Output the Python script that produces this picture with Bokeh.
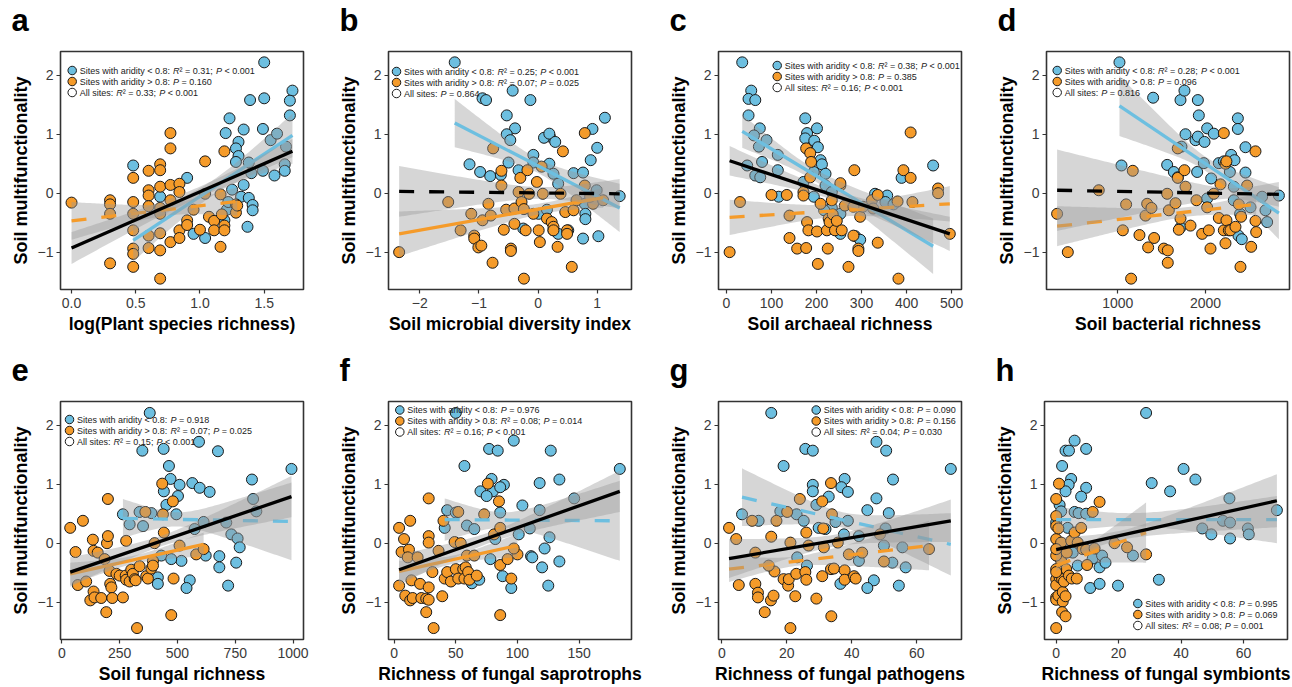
import numpy as np
from bokeh.plotting import figure
from bokeh.layouts import row, column
from bokeh.models import Range1d, FixedTicker
from bokeh.embed import file_html
from bokeh.resources import INLINE
from bokeh.core.properties import value

# ---------------------------------------------------------------- data
Y_TICKS = [-1, 0, 1, 2]
Y_TICK_LABELS = ["\u22121", "0", "1", "2"]
Y_LABEL = "Soil multifunctionality"
LEGEND_GROUPS = ["Sites with aridity < 0.8: ", "Sites with aridity > 0.8: ", "All sites: "]

# fits: [y at group min x, y at group max x, CI half-width at left, narrowest, right]
# order: aridity < 0.8 (blue), aridity > 0.8 (orange), all sites (black)

A_BLUE = [(1.50,2.22),(1.72,1.74),(1.70,1.57),(1.70,1.32),(1.39,1.58),(1.50,1.61),(1.23,1.27),(1.20,1.02),(1.34,1.08),(1.49,1.09),(1.30,0.87),(1.28,0.76),(1.30,0.63),(1.28,0.53),(1.38,0.52),(1.40,0.34),(1.49,0.38),(1.58,0.30),(1.55,0.90),(1.60,1.01),(1.67,0.79),(1.66,0.49),(1.66,0.38),(0.90,0.26),(0.48,0.47),(1.34,0.14),(1.25,0.06),(1.32,-0.06),(1.38,-0.08),(1.41,-0.20),(1.41,-0.29),(1.37,-0.57),(1.21,-0.28),(1.19,-0.46),(0.95,-0.69),(1.04,-0.76),(1.22,-0.15),(0.69,-0.06)]
A_ORANGE = [(0.00,-0.16),(0.30,-0.12),(0.30,-0.19),(0.30,-0.35),(0.30,-1.19),(0.48,0.26),(0.48,-0.15),(0.48,-0.35),(0.48,-0.63),(0.48,-0.94),(0.48,-1.03),(0.48,-1.25),(0.60,0.38),(0.60,0.05),(0.60,-0.04),(0.60,-0.22),(0.60,-0.72),(0.60,-0.93),(0.69,0.49),(0.69,0.39),(0.69,0.11),(0.69,-0.25),(0.69,-0.35),(0.69,-0.68),(0.69,-0.97),(0.69,-1.45),(0.77,1.02),(0.77,0.76),(0.77,0.14),(0.77,-0.12),(0.77,-0.83),(0.84,0.16),(0.84,0.02),(0.84,-0.63),(0.84,-0.76),(0.90,-0.46),(0.90,-0.54),(0.95,-0.28),(1.00,-0.62),(1.04,0.54),(1.04,-0.01),(1.07,-0.40),(1.11,-0.47),(1.11,-0.63),(1.16,-0.02),(1.17,-0.36),(1.16,-0.91),(1.19,0.71),(1.19,-0.55),(1.19,-0.63),(1.28,-0.19),(1.28,-0.33),(1.29,-0.21)]
A_FITS = [[-0.80, 0.98, 0.36, 0.13, 0.37], [-0.47, -0.14, 0.32, 0.10, 0.24], [-0.93, 0.71, 0.27, 0.09, 0.21]]
A_STATS = [("0.31", "< 0.001"), (None, "= 0.160"), ("0.33", "< 0.001")]
A_XTICKS = [0, 0.5, 1, 1.5]
A_XTICK_LABELS = ["0.0", "0.5", "1.0", "1.5"]
A_XLABEL = "log(Plant species richness)"

B_BLUE = [(-1.41,2.22),(-0.94,1.61),(-0.88,1.58),(-0.43,1.74),(-0.13,1.58),(-0.53,1.32),(-0.39,1.10),(-0.53,1.00),(-0.47,0.90),(0.20,0.96),(0.10,0.94),(0.19,1.01),(0.29,0.87),(0.92,1.09),(1.13,1.28),(1.00,0.77),(0.89,0.56),(-1.16,0.49),(-0.98,0.36),(-0.81,0.29),(-0.63,0.31),(-0.50,0.52),(-0.33,0.39),(-0.08,0.65),(-0.08,0.52),(0.19,0.50),(0.26,0.33),(0.34,0.16),(0.60,0.34),(0.76,0.35),(0.79,-0.18),(0.80,-0.35),(0.80,-0.44),(0.76,-0.77),(1.02,-0.73),(1.38,-0.05),(0.99,0.05),(0.26,-0.63),(0.34,-0.69),(0.51,-0.63),(-0.25,-0.60),(0.01,-0.35),(0.15,-0.28)]
B_ORANGE = [(-2.35,-1.00),(-1.52,-0.15),(-1.31,-0.63),(-1.13,-0.35),(-1.08,-0.72),(-1.08,-0.77),(-1.01,-0.92),(-0.96,-0.89),(-0.94,-0.46),(-0.84,-0.18),(-0.80,-0.38),(-0.77,-1.18),(-0.76,0.76),(-0.62,0.38),(-0.62,0.13),(-0.58,-0.62),(-0.54,-0.28),(-0.46,-0.94),(-0.46,-0.98),(-0.40,-0.52),(-0.40,-0.26),(-0.33,0.02),(-0.30,0.26),(-0.28,-0.15),(-0.24,-0.27),(-0.24,-1.45),(-0.21,-0.63),(-0.18,0.39),(-0.15,-0.01),(-0.08,-0.35),(-0.02,0.19),(0.01,-0.63),(0.03,-0.83),(0.06,0.45),(0.08,-0.01),(0.15,-0.43),(0.23,-0.49),(0.26,-0.57),(0.26,-0.63),(0.33,-0.91),(0.38,-0.01),(0.42,0.71),(0.46,-0.32),(0.49,-0.63),(0.49,-0.69),(0.57,-1.25),(0.60,-0.29),(0.65,-0.12),(0.79,1.02),(0.79,0.13),(0.93,-0.18),(0.88,-0.06),(1.10,-0.12)]
B_FITS = [[1.19, -0.25, 0.41, 0.12, 0.41], [-0.69, -0.075, 0.38, 0.09, 0.17], [0.03, -0.01, 0.43, 0.10, 0.25]]
B_STATS = [("0.25", "< 0.001"), ("0.07", "= 0.025"), (None, "= 0.864")]
B_XTICKS = [-2, -1, 0, 1]
B_XTICK_LABELS = ["\u22122", "\u22121", "0", "1"]
B_XLABEL = "Soil microbial diversity index"

C_BLUE = [(35,2.22),(55,1.74),(49,1.60),(64,1.58),(49,1.32),(74,1.10),(61,0.98),(72,0.79),(89,0.90),(79,0.53),(46,0.47),(64,0.30),(75,0.27),(114,0.65),(114,0.39),(116,-0.06),(175,1.27),(179,1.02),(175,0.93),(201,1.10),(195,0.89),(203,0.78),(209,0.56),(212,0.49),(194,0.36),(220,0.33),(194,-0.06),(220,0.13),(234,0.02),(253,-0.69),(286,-0.73),(297,-0.79),(357,-0.04),(330,-0.01),(353,-0.15),(371,-0.19),(389,0.26),(459,0.47),(234,-0.25),(217,-0.29),(171,0.19),(253,-0.35)]
C_ORANGE = [(7,-1.00),(30,-0.15),(100,-0.03),(134,-0.03),(140,-0.38),(140,-0.76),(157,-0.94),(177,-0.93),(171,0.02),(171,-0.04),(177,0.76),(186,0.68),(188,0.53),(179,-0.49),(182,-0.63),(186,0.27),(201,-0.65),(203,-1.20),(209,-0.18),(223,-0.63),(225,-0.94),(227,-0.43),(229,-0.49),(234,-0.12),(236,-0.36),(241,-0.63),(245,-0.47),(253,0.13),(253,0.17),(256,-0.63),(263,-0.21),(271,-1.25),(282,-0.72),(284,0.39),(293,-0.94),(293,-0.98),(297,-0.40),(303,-0.23),(323,-0.12),(326,-0.26),(336,-0.03),(336,-0.84),(382,-1.45),(380,-0.14),(393,0.39),(409,0.26),(409,1.03),(413,-0.15),(470,0.08),(470,0.00),(496,-0.69),(282,-0.23)]
C_FITS = [[1.05, -0.90, 0.28, 0.10, 0.47], [-0.41, -0.18, 0.30, 0.10, 0.30], [0.55, -0.69, 0.25, 0.08, 0.29]]
C_STATS = [("0.38", "< 0.001"), (None, "= 0.385"), ("0.16", "< 0.001")]
C_XTICKS = [0, 100, 200, 300, 400, 500]
C_XTICK_LABELS = ["0", "100", "200", "300", "400", "500"]
C_XLABEL = "Soil archaeal richness"

D_BLUE = [(1019,2.22),(1403,1.62),(1715,1.58),(1760,1.74),(1913,1.58),(1924,1.32),(2019,1.10),(2095,1.01),(1772,1.00),(1886,0.90),(1913,0.96),(1989,0.87),(2369,1.27),(2369,1.09),(2456,0.78),(1042,0.47),(1563,0.48),(1639,0.36),(1684,0.27),(1726,0.79),(1905,0.36),(1981,0.51),(2065,0.25),(2152,0.51),(2209,0.54),(2293,0.65),(2331,0.56),(2456,0.35),(2278,0.36),(2323,0.11),(2837,-0.04),(1715,-0.58),(2376,-0.72),(2414,-0.78),(2323,-0.12),(2019,-0.09),(2395,-0.35),(2513,-0.24),(2684,-0.29),(2703,-0.49),(2646,-0.06)]
D_ORANGE = [(308,-0.35),(430,-1.00),(783,0.05),(1095,-0.19),(1057,-0.63),(1171,0.38),(1152,-1.45),(1247,-0.71),(1335,-0.18),(1316,-0.38),(1346,-0.92),(1384,-0.25),(1414,-0.76),(1525,-0.94),(1570,-0.97),(1570,-1.18),(1563,-0.01),(1582,-0.29),(1658,-0.17),(1684,0.76),(1684,0.26),(1696,-0.62),(1760,0.39),(1772,0.11),(1715,-0.43),(1829,-0.55),(1897,-0.12),(1962,-0.69),(2019,-0.24),(2038,-0.63),(2057,-0.94),(2095,-0.01),(2152,-0.42),(2209,1.02),(2171,0.15),(2228,0.50),(2239,0.54),(2209,-0.63),(2239,-0.46),(2266,-0.63),(2285,-0.63),(2342,-0.57),(2380,-0.19),(2406,-0.40),(2228,-0.85),(2399,-1.25),(2570,0.71),(2475,0.13),(2570,-0.47),(2578,-0.66),(2521,-0.91)]
D_FITS = [[1.48, -0.34, 0.51, 0.12, 0.44], [-0.56, -0.19, 0.34, 0.08, 0.18], [0.05, -0.02, 0.69, 0.09, 0.21]]
D_STATS = [("0.28", "< 0.001"), (None, "= 0.096"), (None, "= 0.816")]
D_XTICKS = [1000, 2000]
D_XTICK_LABELS = ["1000", "2000"]
D_XLABEL = "Soil bacterial richness"

E_BLUE = [(380,2.21),(348,1.57),(440,1.60),(593,1.72),(675,1.56),(463,1.31),(993,1.26),(470,1.09),(509,0.99),(564,1.02),(596,0.94),(639,0.87),(822,1.08),(441,0.88),(502,0.80),(452,0.65),(264,0.49),(336,0.53),(387,0.51),(495,0.49),(827,0.75),(841,0.54),(711,0.35),(733,0.15),(760,0.08),(613,0.36),(574,0.24),(769,-0.07),(681,-0.22),(681,-0.41),(754,-0.33),(719,-0.72),(622,-0.21),(517,-0.30),(415,-0.58),(415,-0.69),(553,-0.63),(539,-0.76),(293,0.32),(351,0.29),(430,-0.21),(473,-0.27)]
E_ORANGE = [(36,0.26),(91,0.38),(59,-0.15),(69,-0.71),(105,-0.65),(123,-0.97),(134,0.06),(137,-0.13),(137,-0.82),(141,-0.92),(155,-0.16),(170,-0.93),(185,-0.27),(192,-1.17),(195,0.00),(199,0.12),(199,0.75),(206,-0.47),(209,-0.69),(214,-0.75),(218,-0.93),(236,-0.52),(250,-0.55),(264,-0.92),(276,-0.55),(278,0.04),(278,-0.62),(293,-0.65),(300,-0.45),(307,-0.52),(315,-0.61),(319,-0.63),(325,-1.44),(336,-0.39),(361,0.53),(365,-0.56),(372,-0.60),(387,-0.43),(394,-0.30),(394,-0.38),(401,0.00),(434,1.01),(441,0.18),(437,0.49),(473,-1.22),(480,0.71),(483,-0.60),(509,-0.04),(581,-0.19),(613,-0.10)]
E_FITS = [[0.42, 0.37, 0.33, 0.12, 0.66], [-0.52, -0.02, 0.19, 0.07, 0.20], [-0.49, 0.79, 0.25, 0.09, 0.35]]
E_STATS = [(None, "= 0.918"), ("0.07", "= 0.025"), ("0.15", "< 0.001")]
E_XTICKS = [0, 250, 500, 750, 1000]
E_XTICK_LABELS = ["0", "250", "500", "750", "1000"]
E_XLABEL = "Soil fungal richness"

F_BLUE = [(50,2.21),(97,1.74),(77,1.60),(84,1.57),(127,1.57),(57,1.31),(183,1.26),(79,1.09),(89,0.99),(118,1.02),(134,1.08),(70,0.88),(80,0.88),(86,0.95),(75,0.80),(104,0.64),(43,0.56),(50,0.52),(41,0.26),(59,0.30),(65,0.24),(86,0.52),(118,0.56),(146,0.76),(101,0.15),(110,0.25),(126,0.10),(111,-0.22),(112,-0.24),(122,-0.09),(120,-0.41),(134,-0.31),(125,-0.72),(88,-0.56),(95,-0.76),(63,-0.68),(69,-0.62),(78,-0.27),(82,0.07)]
F_ORANGE = [(4,0.26),(4,-0.72),(6,-0.15),(8,0.07),(12,-0.11),(13,0.38),(9,-0.89),(13,-0.97),(15,-0.93),(14,-0.63),(11,-0.24),(19,-0.24),(21,-0.69),(22,-0.93),(26,-0.94),(28,-0.96),(26,-1.17),(28,0.76),(28,0.12),(28,0.01),(28,-0.75),(31,-0.49),(32,-1.44),(36,-0.13),(39,-0.90),(40,0.38),(41,-0.60),(43,-0.49),(46,-0.65),(49,0.02),(50,-0.44),(52,0.53),(52,-0.60),(54,0.00),(56,-0.44),(57,-0.60),(58,-0.41),(59,-0.21),(60,-0.49),(61,-0.62),(65,-0.21),(67,-0.55),(73,0.49),(76,1.01),(81,0.15),(85,0.71),(86,-0.37),(86,-1.22),(86,0.26),(95,-0.60),(100,-0.19),(97,-0.09),(92,-0.27)]
F_FITS = [[0.40, 0.38, 0.36, 0.13, 0.68], [-0.48, -0.04, 0.18, 0.07, 0.20], [-0.45, 0.88, 0.26, 0.09, 0.35]]
F_STATS = [(None, "= 0.976"), ("0.08", "= 0.014"), ("0.16", "< 0.001")]
F_XTICKS = [0, 50, 100, 150]
F_XTICK_LABELS = ["0", "50", "100", "150"]
F_XLABEL = "Richness of fungal saprotrophs"

G_BLUE = [(15.2,2.21),(19.0,1.31),(25.7,1.60),(28.0,1.57),(47.6,1.72),(50.6,1.57),(70.5,1.26),(37.8,1.09),(28.0,0.99),(28.0,0.88),(36.8,0.95),(38.8,0.87),(52.7,1.08),(32.9,0.79),(47.6,0.76),(44.8,0.56),(51.4,0.51),(6.2,0.49),(11.3,0.38),(18.0,0.54),(23.0,0.49),(25.2,0.38),(29.1,0.65),(35.0,0.36),(38.8,0.38),(29.8,0.26),(31.9,0.24),(37.6,0.15),(42.2,0.12),(50.4,0.25),(49.9,-0.04),(55.6,-0.07),(52.5,-0.33),(56.6,-0.41),(46.8,-0.63),(44.8,-0.76),(54.5,-0.72),(36.5,-0.69),(40.7,-0.58),(42.2,-0.30),(23.2,-0.24),(26.2,-0.38)]
G_ORANGE = [(2.2,0.26),(4.4,0.07),(5.2,-0.71),(9.3,0.38),(10.3,-0.69),(11.1,-0.84),(11.1,-0.92),(13.2,-1.17),(15.1,-0.97),(15.9,-0.89),(15.2,0.11),(16.2,-0.48),(16.8,0.38),(19.0,-0.61),(20.1,0.53),(20.4,-0.72),(20.6,-0.61),(21.1,-1.44),(21.1,0.01),(22.6,-0.90),(22.9,-0.52),(24.0,0.75),(25.7,-0.49),(26.0,-0.62),(26.0,0.18),(26.7,-0.04),(29.1,-0.94),(30.9,0.71),(31.2,0.25),(30.9,-0.56),(31.4,-0.07),(33.6,1.02),(33.9,0.49),(33.6,-0.44),(33.7,-1.24),(34.5,-0.43),(37.8,-0.46),(37.8,-0.62),(39.1,-0.19),(40.7,-0.56),(41.2,-0.60),(43.2,-0.16),(49.9,-0.31),(48.7,0.15),(63.8,-0.10),(10.3,-0.16),(14.4,-0.38),(35.7,0.01)]
G_FITS = [[0.78, -0.02, 0.49, 0.13, 0.53], [-0.44, -0.04, 0.22, 0.08, 0.42], [-0.26, 0.38, 0.33, 0.10, 0.36]]
G_STATS = [(None, "= 0.090"), (None, "= 0.156"), ("0.04", "= 0.030")]
G_XTICKS = [0, 20, 40, 60]
G_XTICK_LABELS = ["0", "20", "40", "60"]
G_XLABEL = "Richness of fungal pathogens"

H_BLUE = [(28.8,2.21),(5.9,1.74),(3.0,1.57),(4.1,1.57),(9.6,1.60),(1.9,1.31),(40.8,1.26),(44.6,1.08),(4.8,1.09),(4.0,0.99),(3.0,0.88),(9.6,0.94),(30.6,1.02),(36.5,0.88),(8.0,0.79),(1.1,0.65),(1.6,0.54),(5.9,0.53),(7.2,0.51),(9.6,0.50),(70.7,0.56),(55.5,0.76),(0.0,0.35),(3.7,0.26),(46.8,0.25),(49.7,0.15),(53.4,0.38),(55.7,0.35),(55.7,0.08),(61.4,0.25),(61.7,0.15),(5.3,-0.16),(6.9,-0.38),(11.7,-0.26),(13.9,-0.41),(14.7,-0.21),(15.8,-0.33),(24.6,-0.21),(10.9,-0.76),(13.9,-0.69),(19.8,-0.72),(32.9,-0.62)]
H_ORANGE = [(0.0,-1.44),(0.0,0.75),(0.9,1.01),(0.0,0.46),(0.0,0.29),(0.0,0.07),(0.0,-0.61),(0.0,-0.71),(0.0,-0.92),(0.0,-0.96),(0.7,-0.89),(1.1,-0.58),(1.1,-0.19),(1.1,-0.44),(1.6,0.01),(1.6,-0.30),(0.7,0.25),(1.9,-0.61),(2.1,-0.83),(2.1,-0.99),(2.5,-0.65),(1.9,-1.17),(3.0,-1.24),(3.0,-0.90),(3.2,-0.44),(3.4,-0.16),(4.1,-0.55),(4.8,0.04),(5.9,0.18),(5.0,-0.60),(6.6,-0.60),(6.9,0.01),(8.0,0.26),(8.5,-0.10),(9.9,-0.37),(11.7,0.53),(13.9,0.70),(9.6,-0.11),(12.3,-0.09),(18.7,0.00),(22.7,-0.07),(28.8,-0.19),(0.0,-0.21),(0.0,-0.44),(0.0,-0.49),(0.0,-0.10)]
H_FITS = [[0.40, 0.40, 0.22, 0.11, 0.40], [-0.38, 0.18, 0.10, 0.07, 0.51], [-0.11, 0.72, 0.20, 0.08, 0.45]]
H_STATS = [(None, "= 0.995"), (None, "= 0.069"), ("0.08", "= 0.001")]
H_XTICKS = [0, 20, 40, 60]
H_XTICK_LABELS = ["0", "20", "40", "60"]
H_XLABEL = "Richness of fungal symbionts"

# ---------------------------------------------------------------- style / layout
BLUE = "#6DBFE0"
ORANGE = "#F59B2A"
FONT = "Liberation Sans"
FW, FH = 243, 238
YR = (-1.634, 2.404)
STRIP_H = 45                          # strip holding the panel letter
ROW_BORDERS = [(6, 61), (6, 47)]      # (top, bottom) for each row of panels
LEFT = 60

# x range, legend (marker centre px from frame left, first line px from frame top/bottom), right border
LAYOUT = {
    "a": dict(xr=(-0.086, 1.806), leg=(11.7, 19, "top"), right=25),
    "b": dict(xr=(-2.53, 1.58), leg=(8.0, 20, "top"), right=27),
    "c": dict(xr=(-17.7, 522.0), leg=(58.7, 14, "top"), right=25),
    "d": dict(xr=(187.0, 2958.0), leg=(10.7, 19, "top"), right=2),
    "e": dict(xr=(-6.0, 1045.0), leg=(9.0, 18, "top"), right=25),
    "f": dict(xr=(-4.6, 192.5), leg=(11.3, 8.5, "top"), right=27),
    "g": dict(xr=(-1.05, 73.8), leg=(97.7, 8.5, "top"), right=23),
    "h": dict(xr=(-3.74, 74.1), leg=(93.3, -36, "bottom"), right=4),
}

ARIAL = {' ': 278, 'S': 667, 'i': 222, 't': 278, 'e': 556, 's': 500, 'w': 722, 'h': 556,
         'a': 556, 'r': 333, 'd': 556, 'y': 500, '<': 584, '>': 584, '=': 584, '.': 278,
         ':': 278, ';': 278, 'A': 667, 'l': 222, 'R': 722, 'P': 667, '\u00b2': 333}


def text_w(s, size):
    return sum(ARIAL.get(c, 556) for c in s) * size / 1000.0


def band(x0, x1, y0, y1, h0, hm, h1, n=80):
    a0 = max(h0 * h0 - hm * hm, 1e-9)
    a1 = max(h1 * h1 - hm * hm, 1e-9)
    r = np.sqrt(a0 / a1)
    m = (x0 + r * x1) / (1 + r)
    if abs(x0 - m) > 1e-12:
        k = a0 / (x0 - m) ** 2
    else:
        k = a1 / (x1 - m) ** 2
    xs = np.linspace(x0, x1, n)
    ys = y0 + (y1 - y0) * (xs - x0) / (x1 - x0)
    hw = np.sqrt(hm * hm + k * (xs - m) ** 2)
    return xs, ys - hw, ys + hw


def is_dashed(pstr):
    if pstr.startswith("<"):
        return False
    return float(pstr.split("=")[1]) >= 0.05


def make_strip(letter):
    w = LEFT + FW + LAYOUT[letter]["right"]
    s = figure(width=w, height=STRIP_H, x_range=Range1d(0, w), y_range=Range1d(0, STRIP_H),
               output_backend="svg", toolbar_location=None,
               x_axis_location=None, y_axis_location=None,
               min_border_left=0, min_border_right=0, min_border_top=0, min_border_bottom=0)
    s.outline_line_color = None
    s.grid.visible = False
    s.background_fill_color = "white"
    s.border_fill_color = "white"
    s.text(x=[LEFT - 49], y=[STRIP_H - 19.5], text=[letter], text_font=value(FONT),
           text_font_size="31px", text_font_style="bold", text_baseline="middle",
           text_align="left", text_color="black")
    return s


def make_panel(letter, blue, orange, fits, stats, xticks, xtick_labels, xlabel, row_idx):
    lay = LAYOUT[letter]
    xr = lay["xr"]
    top, bottom = ROW_BORDERS[row_idx]
    p = figure(width=LEFT + FW + lay["right"], height=top + FH + bottom,
               x_range=Range1d(*xr), y_range=Range1d(*YR),
               output_backend="svg", toolbar_location=None,
               min_border_left=LEFT, min_border_right=lay["right"],
               min_border_top=top, min_border_bottom=bottom)
    p.background_fill_color = "white"
    p.border_fill_color = "white"
    p.grid.visible = False
    p.outline_line_color = "#333333"
    p.outline_line_width = 1.6

    def px2x(px):
        return xr[0] + px * (xr[1] - xr[0]) / FW

    def py2y(py):
        return YR[1] - py * (YR[1] - YR[0]) / FH

    # points
    for pts, col in ((blue, BLUE), (orange, ORANGE)):
        p.scatter([q[0] for q in pts], [q[1] for q in pts], size=11, marker="circle",
                  fill_color=col, line_color="#1a1a1a", line_width=1)

    # regression fits with confidence bands
    groups = [(blue, BLUE), (orange, ORANGE), (blue + orange, "black")]
    for (pts, col), fit, st in zip(groups, fits, stats):
        xs = [q[0] for q in pts]
        x0, x1 = min(xs), max(xs)
        y0, y1, h0, hm, h1 = fit
        bx, lo, hi = band(x0, x1, y0, y1, h0, hm, h1)
        p.varea(x=bx, y1=lo, y2=hi, fill_color="#999999", fill_alpha=0.4)
        p.line([x0, x1], [y0, y1], line_color=col, line_width=3.3,
               line_dash="15 15" if is_dashed(st[1]) else "solid")

    # legend
    mx, my, anchor = lay["leg"]
    for i, (grp, (r2, pv)) in enumerate(zip(LEGEND_GROUPS, stats)):
        cy = my + 11 * i
        if anchor == "bottom":
            cy = FH + my + 11 * i
        fill = [BLUE, ORANGE, "white"][i]
        p.scatter([px2x(mx)], [py2y(cy)], size=8.5, marker="circle", fill_color=fill,
                  line_color="#1a1a1a", line_width=1)
        segs = [(grp, "normal")]
        if r2 is not None:
            segs += [("R", "italic"), ("\u00b2 = %s; " % r2, "normal")]
        segs += [("P", "italic"), (" " + pv, "normal")]
        tx = mx + 7.5
        for s, sty in segs:
            stripped = s.lstrip(" ")
            lead = text_w(s[:len(s) - len(stripped)], 9)
            extra = 0.6 if sty == "italic" else 0.0
            p.text(x=[px2x(tx + lead + extra)], y=[py2y(cy)], text=[stripped.rstrip(" ")],
                   text_font=value(FONT), text_font_size="9px", text_font_style=sty,
                   text_baseline="middle", text_align="left", text_color="#222222")
            tx += text_w(s, 9) + extra

    # axes
    p.xaxis.ticker = FixedTicker(ticks=xticks)
    p.xaxis.major_label_overrides = {t: l for t, l in zip(xticks, xtick_labels)}
    p.yaxis.ticker = FixedTicker(ticks=Y_TICKS)
    p.yaxis.major_label_overrides = {t: l for t, l in zip(Y_TICKS, Y_TICK_LABELS)}
    p.xaxis.axis_label = xlabel
    p.yaxis.axis_label = Y_LABEL
    for ax in (p.xaxis[0], p.yaxis[0]):
        ax.axis_line_color = None
        ax.major_tick_line_color = "#333333"
        ax.major_tick_line_width = 1.2
        ax.major_tick_out = 4
        ax.major_tick_in = 0
        ax.minor_tick_line_color = None
        ax.major_label_text_font = FONT
        ax.major_label_text_font_size = "14px"
        ax.major_label_text_color = "#3a3a3a"
        ax.axis_label_text_font = FONT
        ax.axis_label_text_font_style = "bold"
        ax.axis_label_text_color = "black"
    p.xaxis.axis_label_text_font_size = "17.5px"
    p.yaxis.axis_label_text_font_size = "18px"
    p.xaxis.major_label_standoff = 4
    p.xaxis.axis_label_standoff = 3
    p.yaxis.major_label_standoff = 3
    p.yaxis.axis_label_standoff = 4
    return p


PANELS = [
    ("a", A_BLUE, A_ORANGE, A_FITS, A_STATS, A_XTICKS, A_XTICK_LABELS, A_XLABEL, 0),
    ("b", B_BLUE, B_ORANGE, B_FITS, B_STATS, B_XTICKS, B_XTICK_LABELS, B_XLABEL, 0),
    ("c", C_BLUE, C_ORANGE, C_FITS, C_STATS, C_XTICKS, C_XTICK_LABELS, C_XLABEL, 0),
    ("d", D_BLUE, D_ORANGE, D_FITS, D_STATS, D_XTICKS, D_XTICK_LABELS, D_XLABEL, 0),
    ("e", E_BLUE, E_ORANGE, E_FITS, E_STATS, E_XTICKS, E_XTICK_LABELS, E_XLABEL, 1),
    ("f", F_BLUE, F_ORANGE, F_FITS, F_STATS, F_XTICKS, F_XTICK_LABELS, F_XLABEL, 1),
    ("g", G_BLUE, G_ORANGE, G_FITS, G_STATS, G_XTICKS, G_XTICK_LABELS, G_XLABEL, 1),
    ("h", H_BLUE, H_ORANGE, H_FITS, H_STATS, H_XTICKS, H_XTICK_LABELS, H_XLABEL, 1),
]

figs = [make_panel(*args) for args in PANELS]
strips = [make_strip(args[0]) for args in PANELS]
layout = column(row(*strips[:4]), row(*figs[:4]), row(*strips[4:]), row(*figs[4:]))

open("out.html", "w").write(file_html(layout, INLINE))
